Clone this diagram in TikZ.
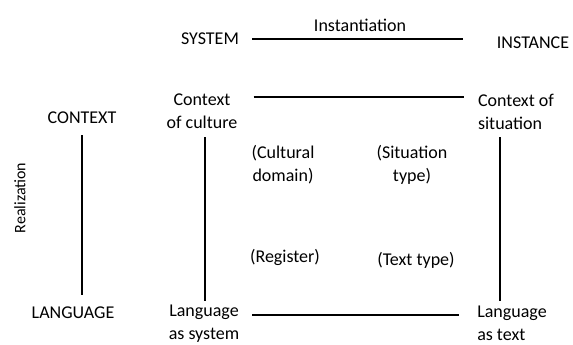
\documentclass[tikz,border=0pt]{standalone}
\usepackage{fontspec}
\setmainfont{Carlito}
\usepackage{tikz}
\usetikzlibrary{positioning}

\begin{document}
\begin{tikzpicture}[
  x=1pt, y=-1pt,
  font=\fontsize{18}{23}\selectfont
]
\tikzset{
    term/.style = {align=center, inner sep=0pt},
    link/.style = {line width=1.6pt, black},
}
\useasboundingbox (0,0) rectangle (573,345);
% stratification labels
\node[term] (inst) at (360,25) {Instantiation};
\node[term,rotate=90,font=\fontsize{16}{20}\selectfont] (real) at (20,198) {Realization};
\node[term] (sys) at (210,39) {SYSTEM};
\node[term] (ins) at (533,43) {INSTANCE};
\node[term] (ctx) at (82,118) {CONTEXT};
\node[term] (lang) at (73,313) {LANGUAGE};
% corners
\node[term] (cctx) at (202,111.5) {Context\\of culture};
\node[term,align=left] (sctx) at (516,111.5) {Context of\\situation};
\node[term] (lsys) at (204,324) {Language\\as system};
\node[term,align=left] (ltxt) at (512,323) {Language\\as text};
% middle
\node[term] (cdom) at (283,165) {(Cultural\\domain)};
\node[term] (stype) at (412,165) {(Situation\\type)};
\node[term] (reg) at (285,257) {(Register)};
\node[term] (ttype) at (416,260) {(Text type)};
% lines
\draw[link,shorten <=13pt,shorten >=34pt] (sys.east) -- (sys.east -| ins.west);
\draw[link,shorten <=16pt,shorten >=14pt] ([yshift=14.5pt]cctx.east) -- ([yshift=14.5pt]cctx.east -| sctx.west);
\draw[link,shorten <=13pt,shorten >=18pt] ([yshift=9pt]lsys.east) -- ([yshift=9pt]lsys.east -| ltxt.west);
\draw[link,shorten <=11pt,shorten >=12pt] (ctx.south) -- (ctx.south |- lang.north);
\draw[link,shorten <=8pt,shorten >=4pt] ([xshift=3pt]cctx.south) -- ([xshift=3pt]cctx.south |- lsys.north);
\draw[link,shorten <=8pt,shorten >=4pt] ([xshift=22pt]sctx.south west) -- ([xshift=22pt]sctx.south west |- ltxt.north west);
\end{tikzpicture}
\end{document}
